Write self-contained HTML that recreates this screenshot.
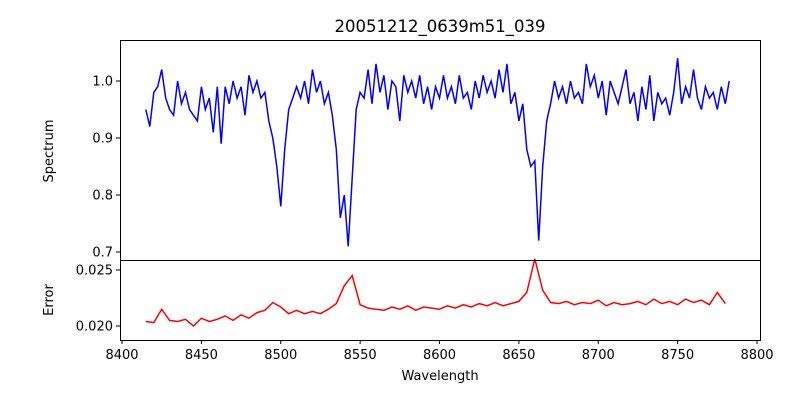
<!DOCTYPE html>
<html><head><meta charset="utf-8"><style>
body{margin:0;background:#fff}
text{font-family:"DejaVu Sans","Liberation Sans",sans-serif;fill:#000}
</style></head><body>
<svg id="c" width="800" height="400" xmlns="http://www.w3.org/2000/svg"></svg>
<script>
const specStart = 8415, specStep = 2.5;
const specValues = [0.95,0.92,0.98,0.99,1.02,0.97,0.95,0.94,1.00,0.96,
0.98,0.95,0.94,0.93,0.99,0.95,0.97,0.91,0.99,0.89,
0.99,0.96,1.00,0.97,0.99,0.94,1.01,0.98,1.00,0.97,
0.98,0.93,0.90,0.85,0.78,0.88,0.95,0.97,0.99,0.97,
1.00,0.96,1.02,0.98,1.00,0.96,0.98,0.94,0.88,0.76,
0.80,0.71,0.83,0.95,0.98,0.97,1.02,0.96,1.03,0.98,
1.01,0.95,1.00,0.99,0.93,1.01,0.98,1.00,0.97,1.01,
0.96,0.99,0.95,0.99,0.97,1.01,0.97,0.99,0.96,1.01,
0.97,0.98,0.95,1.00,0.97,1.01,0.98,1.00,0.97,1.02,
0.98,1.03,0.96,0.98,0.93,0.96,0.88,0.85,0.86,0.72,
0.85,0.93,0.96,1.00,0.97,0.99,0.96,1.00,0.97,0.98,
0.96,1.03,0.99,1.01,0.97,1.00,0.94,1.00,0.98,0.96,
0.99,1.02,0.96,0.98,0.93,0.99,0.95,1.01,0.93,0.98,
0.96,0.97,0.94,0.98,1.04,0.96,0.99,0.97,1.02,0.97,
0.95,0.99,0.97,0.98,0.95,0.99,0.96,1.00];
const errStart = 8415, errStep = 5;
const errValues = [0.0204,0.0203,0.0215,0.0205,0.0204,0.0206,0.0200,0.0207,0.0204,0.0206,
0.0209,0.0205,0.0210,0.0207,0.0212,0.0214,0.0221,0.0217,0.0211,0.0214,
0.0211,0.0213,0.0211,0.0215,0.0220,0.0236,0.0245,0.0219,0.0216,0.0215,
0.0214,0.0217,0.0215,0.0218,0.0214,0.0217,0.0216,0.0215,0.0218,0.0216,
0.0219,0.0217,0.0220,0.0218,0.0221,0.0218,0.0220,0.0222,0.0230,0.0260,
0.0232,0.0221,0.0220,0.0222,0.0219,0.0221,0.0220,0.0223,0.0218,0.0221,
0.0219,0.0220,0.0222,0.0219,0.0224,0.0220,0.0222,0.0219,0.0224,0.0221,
0.0223,0.0219,0.0230,0.0220];
const xTicks = [8400,8450,8500,8550,8600,8650,8700,8750,8800];
const specTicks = [0.7,0.8,0.9,1.0];
const errTicks = [0.020,0.025];

const svg = document.getElementById('c');
const NS = 'http://www.w3.org/2000/svg';
function mk(tag, attrs, parent){const e=document.createElementNS(NS,tag);for(const k in attrs)e.setAttribute(k,attrs[k]);(parent||svg).appendChild(e);return e;}
const X = w => 122 + (w-8400)*1.5875;
const YS = v => 81 - (v-1.0)*570;
const YE = v => 326 - (v-0.020)*11200;

// spectrum line
let d='';
specValues.forEach((v,i)=>{d+=(i?'L':'M')+X(specStart+i*specStep).toFixed(1)+','+YS(v).toFixed(1);});
const sl = mk('path',{d:d,fill:'none',stroke:'#0000ff','stroke-width':1.5});


d='';
errValues.forEach((v,i)=>{d+=(i?'L':'M')+X(errStart+i*errStep).toFixed(1)+','+YE(v).toFixed(1);});
const el = mk('path',{d:d,fill:'none',stroke:'#ff0000','stroke-width':1.5});



// frames
const f1 = mk('rect',{x:120.5,y:40.5,width:640,height:220,fill:'none',stroke:'#000','stroke-width':1});


const f2 = mk('rect',{x:120.5,y:260.5,width:640,height:80,fill:'none',stroke:'#000','stroke-width':1});



xTicks.forEach(t=>{const x=X(t);
  mk('line',{x1:x,x2:x,y1:340,y2:344,stroke:'#000'});
  const tx=mk('text',{x:x,y:359,'font-size':13,'text-anchor':'middle'});tx.textContent=t;
  
  
});
specTicks.forEach(t=>{const y=YS(t);
  mk('line',{x1:116,x2:120,y1:y,y2:y,stroke:'#000'});
  const tx=mk('text',{x:113,y:y+4.5,'font-size':13,'text-anchor':'end'});tx.textContent=t.toFixed(1);
  
  
});
errTicks.forEach(t=>{const y=YE(t);
  mk('line',{x1:116,x2:120,y1:y,y2:y,stroke:'#000'});
  const tx=mk('text',{x:113,y:y+4.5,'font-size':13,'text-anchor':'end'});tx.textContent=t.toFixed(3);
  
  
});
const title=mk('text',{x:440,y:32,'font-size':16.5,'text-anchor':'middle'});title.textContent='20051212_0639m51_039';


const xl=mk('text',{x:440,y:380,'font-size':13,'text-anchor':'middle'});xl.textContent='Wavelength';


const yl=mk('text',{x:0,y:0,'font-size':13,'text-anchor':'middle',transform:'translate(53,151) rotate(-90)'});yl.textContent='Spectrum';


const yl2=mk('text',{x:0,y:0,'font-size':13,'text-anchor':'middle',transform:'translate(53,300) rotate(-90)'});yl2.textContent='Error';


</script>
</body></html>
